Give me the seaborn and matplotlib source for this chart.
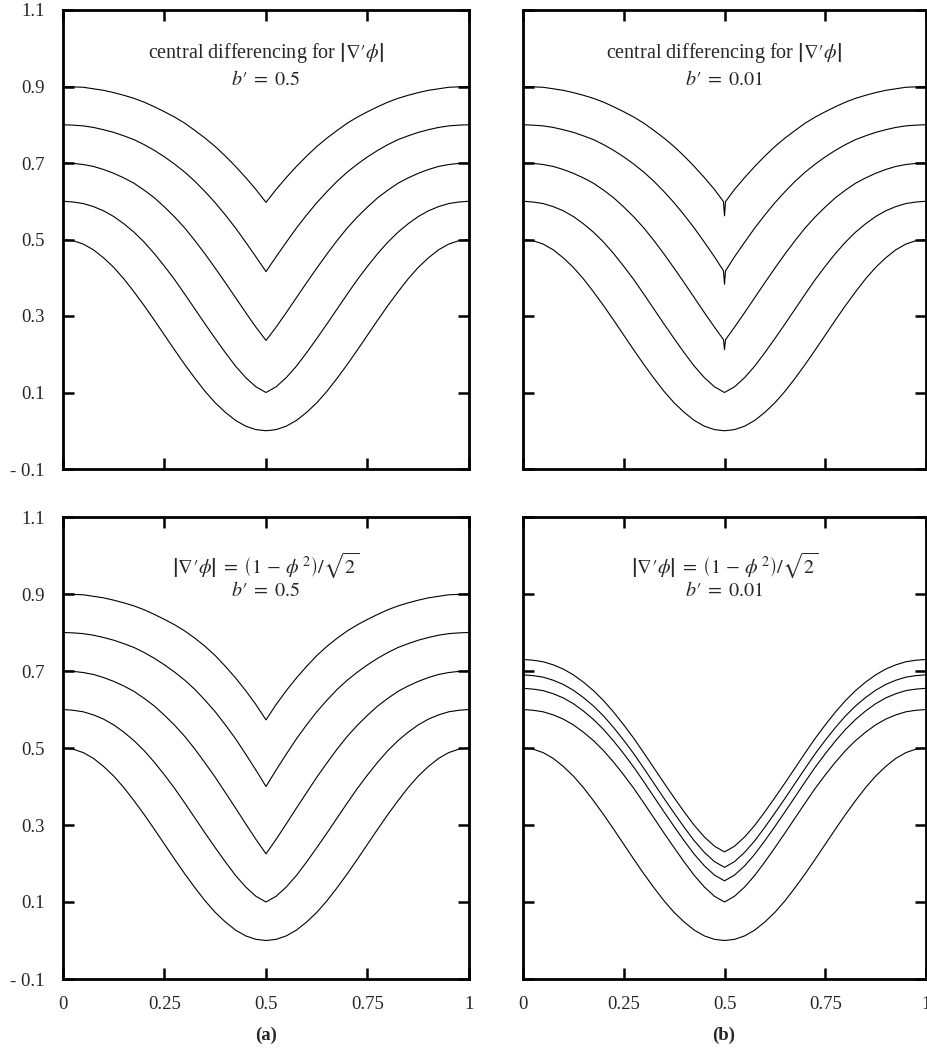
import numpy as np
import pandas as pd
import matplotlib
matplotlib.use("Agg")
import matplotlib.pyplot as plt
import seaborn as sns

sns.set_theme(style="ticks")
plt.rcParams["font.family"] = ["Liberation Serif", "DejaVu Serif"]
plt.rcParams["mathtext.fontset"] = "stix"

# half-profiles for x in [0, 0.5]; every curve is mirror-symmetric about x = 0.5
x_half = [0.000, 0.025, 0.050, 0.075, 0.100, 0.125, 0.150, 0.175, 0.200, 0.225,
          0.250, 0.275, 0.300, 0.325, 0.350, 0.375, 0.400, 0.425, 0.450, 0.475, 0.500]
x_spike = x_half[:-1] + [0.4975, 0.500]

initial = [0.500, 0.497, 0.488, 0.473, 0.452, 0.427, 0.397, 0.363, 0.327, 0.289,
           0.250, 0.211, 0.173, 0.137, 0.103, 0.073, 0.048, 0.027, 0.012, 0.003, 0.000]

# (a) top: central differencing, b' = 0.5
a_top_1 = [0.600, 0.598, 0.594, 0.586, 0.575, 0.560, 0.541, 0.519, 0.493, 0.463,
           0.430, 0.395, 0.357, 0.318, 0.279, 0.241, 0.204, 0.169, 0.139, 0.115, 0.100]
a_top_2 = [0.700, 0.699, 0.696, 0.691, 0.683, 0.673, 0.661, 0.647, 0.629, 0.609,
           0.585, 0.559, 0.530, 0.497, 0.462, 0.425, 0.387, 0.348, 0.309, 0.271, 0.236]
a_top_3 = [0.800, 0.799, 0.797, 0.793, 0.787, 0.780, 0.771, 0.761, 0.748, 0.733,
           0.716, 0.697, 0.676, 0.652, 0.625, 0.596, 0.564, 0.530, 0.493, 0.455, 0.416]
a_top_4 = [0.900, 0.899, 0.898, 0.894, 0.890, 0.884, 0.877, 0.869, 0.859, 0.847,
           0.834, 0.820, 0.804, 0.785, 0.765, 0.743, 0.718, 0.691, 0.662, 0.631, 0.597]

# (b) top: central differencing, b' = 0.01 (small spike at the corner)
b_top_1 = a_top_1
b_top_2 = a_top_2[:-1] + [0.238, 0.212]
b_top_3 = a_top_3[:-1] + [0.418, 0.383]
b_top_4 = a_top_4[:-1] + [0.599, 0.562]

# (a) bottom: exact gradient, b' = 0.5
a_bot_1 = a_top_1
a_bot_2 = [0.700, 0.699, 0.696, 0.691, 0.683, 0.673, 0.661, 0.647, 0.629, 0.609,
           0.585, 0.559, 0.530, 0.497, 0.461, 0.424, 0.384, 0.344, 0.303, 0.263, 0.225]
a_bot_3 = [0.800, 0.799, 0.797, 0.793, 0.787, 0.780, 0.771, 0.761, 0.748, 0.733,
           0.716, 0.697, 0.676, 0.652, 0.624, 0.594, 0.560, 0.524, 0.484, 0.443, 0.400]
a_bot_4 = [0.900, 0.899, 0.898, 0.894, 0.890, 0.884, 0.877, 0.869, 0.859, 0.847,
           0.834, 0.820, 0.804, 0.785, 0.764, 0.740, 0.712, 0.682, 0.649, 0.613, 0.573]

# (b) bottom: exact gradient, b' = 0.01
b_bot_1 = a_top_1
b_bot_2 = [0.655, 0.653, 0.649, 0.641, 0.630, 0.615, 0.596, 0.574, 0.548, 0.518,
           0.485, 0.450, 0.412, 0.373, 0.334, 0.296, 0.259, 0.224, 0.194, 0.170, 0.155]
b_bot_3 = [0.690, 0.688, 0.684, 0.676, 0.665, 0.650, 0.631, 0.609, 0.583, 0.553,
           0.520, 0.485, 0.447, 0.408, 0.369, 0.331, 0.294, 0.259, 0.229, 0.205, 0.190]
b_bot_4 = [0.730, 0.728, 0.724, 0.716, 0.705, 0.690, 0.671, 0.649, 0.623, 0.593,
           0.560, 0.525, 0.487, 0.448, 0.409, 0.371, 0.334, 0.299, 0.269, 0.245, 0.230]

y_ticks = [-0.1, 0.1, 0.3, 0.5, 0.7, 0.9, 1.1]
y_labels = ["- 0.1", "0.1", "0.3", "0.5", "0.7", "0.9", "1.1"]
x_ticks = [0, 0.25, 0.5, 0.75, 1]
x_labels = ["0", "0.25", "0.5", "0.75", "1"]

panels = {
    "a_top": [(x_half, initial), (x_half, a_top_1), (x_half, a_top_2), (x_half, a_top_3), (x_half, a_top_4)],
    "b_top": [(x_half, initial), (x_half, b_top_1), (x_spike, b_top_2), (x_spike, b_top_3), (x_spike, b_top_4)],
    "a_bot": [(x_half, initial), (x_half, a_bot_1), (x_half, a_bot_2), (x_half, a_bot_3), (x_half, a_bot_4)],
    "b_bot": [(x_half, initial), (x_half, b_bot_1), (x_half, b_bot_2), (x_half, b_bot_3), (x_half, b_bot_4)],
}
grad = r"\left|\nabla\prime\phi\right|"
formula = r"$" + grad + r"\;=\;\left(1\,-\,\phi^{\,2}\right)/\sqrt{2}$"
titles = {
    "a_top": (r"central differencing for $" + grad + "$", r"$b\prime\;=\;0.5$"),
    "b_top": (r"central differencing for $" + grad + "$", r"$b\prime\;=\;0.01$"),
    "a_bot": (formula, r"$b\prime\;=\;0.5$"),
    "b_bot": (formula, r"$b\prime\;=\;0.01$"),
}

W, H = 928, 1055
fig = plt.figure(figsize=(W / 100, H / 100), dpi=100)

def rect(x0, x1, y0, y1):
    return [x0 / W, 1 - y1 / H, (x1 - x0) / W, (y1 - y0) / H]

axes = {
    "a_top": fig.add_axes(rect(63, 469, 10, 469)),
    "b_top": fig.add_axes(rect(523, 926, 10, 469)),
    "a_bot": fig.add_axes(rect(63, 469, 517, 979)),
    "b_bot": fig.add_axes(rect(523, 926, 517, 979)),
}

for key, ax in axes.items():
    for xh, curve in panels[key]:
        x_full = list(xh) + [1 - v for v in xh[-2::-1]]
        y_full = list(curve) + list(curve[-2::-1])
        df = pd.DataFrame({"x": x_full, "y": y_full})
        sns.lineplot(data=df, x="x", y="y", ax=ax, color="black", lw=0.8,
                     sort=False, estimator=None)
    ax.set_xlim(0, 1)
    ax.set_ylim(-0.1, 1.1)
    ax.set_xlabel("")
    ax.set_ylabel("")
    for sp in ax.spines.values():
        sp.set_visible(True)
        sp.set_linewidth(2.0)
        sp.set_color("black")
    ax.set_xticks(x_ticks)
    ax.set_yticks(y_ticks)
    ax.tick_params(axis="both", direction="in", length=8, width=1.8,
                   top=True, right=True, color="black", labelsize=13.5)
    ax.tick_params(axis="y", pad=13)
    ax.tick_params(axis="x", pad=12)
    if key.startswith("a"):
        ax.set_yticklabels(y_labels)
    else:
        ax.set_yticklabels([])
    if key.endswith("bot"):
        ax.set_xticklabels(x_labels)
    else:
        ax.set_xticklabels([])
    l1, l2 = titles[key]
    top = key.endswith("top")
    ax.text(0.5, 0.906 if top else 0.896, l1, transform=ax.transAxes,
            ha="center", va="center", fontsize=14.5)
    ax.text(0.5, 0.847 if top else 0.838, l2, transform=ax.transAxes,
            ha="center", va="center", fontsize=14.5)

fig.text(266 / W, 1 - 1035 / H, "(a)", ha="center", va="center",
         fontsize=13.5, fontweight="bold")
fig.text(724 / W, 1 - 1035 / H, "(b)", ha="center", va="center",
         fontsize=13.5, fontweight="bold")

fig.savefig("out.png", dpi=100)
